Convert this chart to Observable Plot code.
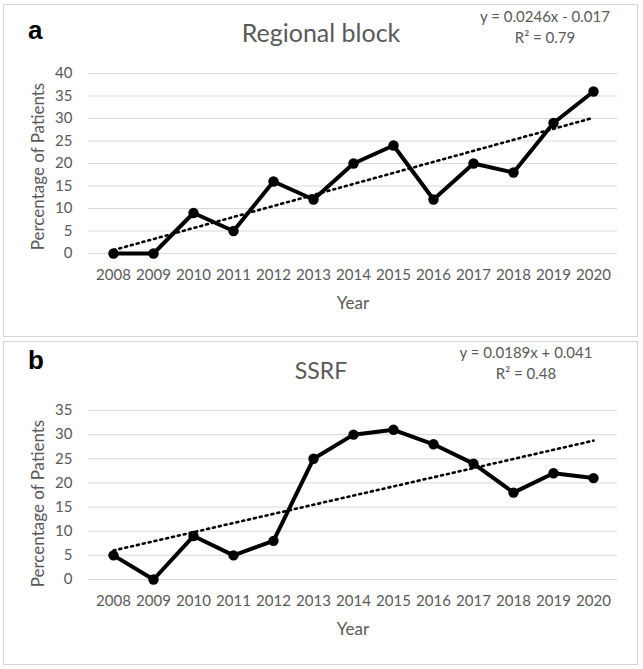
<!DOCTYPE html>
<html><head><meta charset="utf-8">
<script src="https://cdn.jsdelivr.net/npm/d3@7"></script>
<script src="https://cdn.jsdelivr.net/npm/@observablehq/plot@0.6"></script>
<style>
body{margin:0;background:#fff;font-family:Lato, sans-serif;}
#root{position:relative;width:643px;height:669px;}
.panel{position:absolute;left:3px;width:635px;}
.frame{position:absolute;left:0;top:0;right:0;bottom:0;border:1px solid #d4d4d4;box-sizing:border-box;}
.panel svg{position:absolute;left:0;top:0;}
</style></head><body><div id="root"></div>
<script>
const years = [2008,2009,2010,2011,2012,2013,2014,2015,2016,2017,2018,2019,2020];
const regionalBlock = [0,0,9,5,16,12,20,24,12,20,18,29,36];
const ssrf = [5,0,9,5,8,25,30,31,28,24,18,22,21];
const yTicksA = [0,5,10,15,20,25,30,35,40];
const yTicksB = [0,5,10,15,20,25,30,35];
const titleA = "Regional block", titleB = "SSRF";
const eqA = ["y = 0.0246x - 0.017", "R² = 0.79"];
const eqB = ["y = 0.0189x + 0.041", "R² = 0.48"];
const xLabel = "Year", yLabel = "Percentage of Patients";

const root = document.getElementById("root");
const GRAY = "#595959";

function makePanel(cfg) {
  const div = document.createElement("div");
  div.className = "panel";
  div.style.top = cfg.top + "px";
  div.style.height = cfg.height + "px";
  const frame = document.createElement("div");
  frame.className = "frame";
  div.appendChild(frame);
  const data = years.map((y, i) => ({year: y, v: cfg.values[i]}));
  const chart = Plot.plot({
    width: 635, height: cfg.height,
    marginLeft: 85, marginRight: 21, marginTop: cfg.mt, marginBottom: cfg.mb,
    style: {fontFamily: "Lato, sans-serif", fontSize: "15px", color: GRAY, background: "transparent", overflow: "visible"},
    x: {type: "point", domain: years, padding: 0.5},
    y: {domain: [0, d3.max(cfg.ticks)]},
    marks: [
      Plot.gridY(cfg.ticks, {stroke: "#d9d9d9", strokeOpacity: 1, strokeWidth: 1}),
      Plot.axisY(cfg.ticks, {tickSize: 0, tickPadding: 16, label: null, fill: GRAY}),
      Plot.axisX({tickSize: 0, tickPadding: 16, label: null, tickFormat: d => String(d), fill: GRAY}),
      Plot.linearRegressionY(data, {x: "year", y: "v", ci: 0, stroke: "black", strokeWidth: 2.6, strokeDasharray: "2 4", strokeLinecap: "round"}),
      Plot.line(data, {x: "year", y: "v", stroke: "black", strokeWidth: 4}),
      Plot.dot(data, {x: "year", y: "v", r: 5.2, fill: "black"})
    ]
  });
  div.appendChild(chart);
  // annotation overlay
  const ov = d3.create("svg").attr("width", 635).attr("height", cfg.height);
  ov.append("text").text(cfg.letter).attr("x", 25).attr("y", cfg.letterY)
    .attr("font-family", "Liberation Sans, Arial, sans-serif").attr("font-weight", "bold").attr("font-size", 26).attr("fill", "#000");
  ov.append("text").text(cfg.title).attr("x", 318).attr("y", 38).attr("text-anchor", "middle")
    .attr("font-family", "Lato, sans-serif").attr("font-size", cfg.titleSize).attr("fill", GRAY);
  ov.append("text").text(cfg.eq[0]).attr("x", cfg.eqX).attr("y", cfg.eqY).attr("text-anchor", "middle")
    .attr("font-family", "Lato, sans-serif").attr("font-size", 15).attr("fill", GRAY);
  ov.append("text").text(cfg.eq[1]).attr("x", cfg.eqX).attr("y", cfg.eqY + 20.5).attr("text-anchor", "middle")
    .attr("font-family", "Lato, sans-serif").attr("font-size", 15).attr("fill", GRAY);
  ov.append("text").text(xLabel).attr("x", 350).attr("y", cfg.height - cfg.mb + 55.5).attr("text-anchor", "middle")
    .attr("font-family", "Lato, sans-serif").attr("font-size", 17).attr("fill", GRAY);
  ov.append("text").text(yLabel).attr("transform", "translate(41,162.5) rotate(-90)").attr("text-anchor", "middle")
    .attr("font-family", "Lato, sans-serif").attr("font-size", 17).attr("fill", GRAY);
  div.appendChild(ov.node());
  root.appendChild(div);
}

makePanel({top: 4, height: 333, mt: 69, mb: 84, values: regionalBlock, ticks: yTicksA, letter: "a", letterY: 35, title: titleA, titleSize: 25, eq: eqA, eqX: 542, eqY: 18});
makePanel({top: 341, height: 324, mt: 69, mb: 86, values: ssrf, ticks: yTicksB, letter: "b", letterY: 28, title: titleB, titleSize: 23, eq: eqB, eqX: 523, eqY: 17});
</script></body></html>
